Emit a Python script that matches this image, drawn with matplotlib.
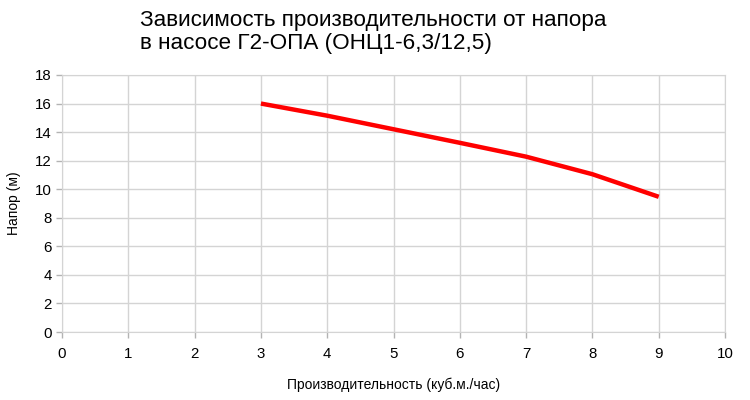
import matplotlib
matplotlib.use('Agg')
from matplotlib import pyplot as plt
import numpy as np

plt.rcParams['font.family'] = ['Liberation Sans', 'DejaVu Sans']

# производительность (куб.м./час) и напор (м)
flow = [3, 4, 5, 6, 7, 8, 9]
head = [16.0, 15.15, 14.2, 13.25, 12.28, 11.05, 9.47]

x_ticks = list(range(0, 11))
y_ticks = list(range(0, 19, 2))

fig = plt.figure(figsize=(7.5, 4), dpi=100)
ax = fig.add_axes([0.0827, 0.17, 0.884, 0.6425])

ax.plot(flow, head, color='#ff0000', linewidth=3.2, solid_capstyle='butt')

ax.set_xlim(0, 10)
ax.set_ylim(0, 18)
ax.set_xticks(x_ticks)
ax.set_yticks(y_ticks)
ax.grid(True, color='#d4d4d4', linewidth=1)
ax.set_axisbelow(True)
for s in ax.spines.values():
    s.set_color('#d4d4d4')
ax.tick_params(axis='both', colors='#b3b3b3', labelcolor='black',
               labelsize=10.8, length=4, width=1)
ax.tick_params(axis='x', pad=7)

ax.set_xlabel('Производительность (куб.м./час)', fontsize=10, labelpad=12)
ax.set_ylabel('Напор (м)', fontsize=10, labelpad=10)

fig.text(0.187, 0.975, 'Зависимость производительности от напора\nв насосе Г2-ОПА (ОНЦ1-6,3/12,5)',
         fontsize=16.2, va='top', ha='left', linespacing=1.1)

plt.savefig('out.png', dpi=100)
